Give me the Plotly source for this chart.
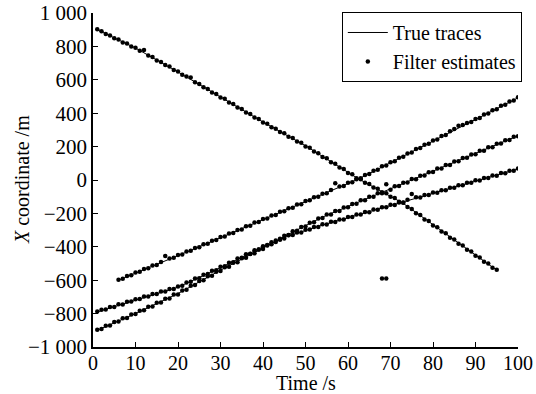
import plotly.graph_objects as go

# ---- true trace vertices ----
a_t = [1, 10, 20, 30, 40, 50, 62.4, 73, 85, 95]
a_y = [900, 790, 647, 497, 347, 205, 8, -140, -360, -540]
b_t = [6, 25, 62.4, 100]
b_y = [-600, -400, 5, 492]
c_t = [1, 10, 20, 30, 40, 46, 54, 100]
c_y = [-790, -718, -642, -525, -400, -335, -270, 66]
d_t = [1, 10, 20, 30, 40, 46, 54, 100]
d_y = [-900, -800, -680, -540, -408, -325, -222, 265]

# ---- filter estimates (one per second) ----
a_est_start = 1
a_est = [902, 891, 874, 866, 849, 842, 824, 817, 800, 792,
         774, 778, 745, 736, 716, 707, 688, 679, 658, 650,
         630, 620, 614, 585, 575, 555, 545, 524, 515, 494,
         486, 464, 455, 434, 425, 404, 395, 374, 366, 344,
         337, 316, 307, 287, 280, 259, 251, 230, 223, 201,
         193, 170, 160, 138, 130, 106, 98, 75, 66, 42,
         34, 10, 4, -17, -24, -45, -52, -74, -80, -101,
         -108, -130, -136, -162, -173, -199, -209, -236, -246, -272,
         -283, -309, -319, -346, -356, -382, -392, -418, -428, -454,
         -464, -490, -500, -526, -538]
b_est_start = 6
b_est = [-598, -591, -575, -571, -554, -550, -533, -529, -512, -509,
         -491, -455, -470, -466, -449, -446, -428, -424, -407, -403,
         -385, -381, -364, -360, -342, -339, -320, -318, -299, -296,
         -277, -274, -255, -252, -234, -231, -212, -209, -190, -187,
         -169, -166, -147, -145, -125, -122, -104, -101, -82, -79,
         -60, -20, -39, -36, -17, -14, 5, 10, 30, 36,
         56, 62, 82, 87, 107, 113, 133, 139, 159, 165,
         185, 191, 211, 217, 237, 243, 263, 270, 292, 306,
         325, 330, 341, 347, 366, 372, 392, 398, 418, 424,
         444, 450, 470, 476, 495]
c_est_start = 1
c_est = [-788, -777, -776, -761, -760, -744, -745, -729, -728, -714,
         -712, -698, -697, -683, -682, -667, -668, -652, -653, -637,
         -633, -614, -610, -590, -588, -567, -563, -543, -541, -520,
         -516, -495, -492, -470, -466, -445, -442, -420, -416, -396,
         -392, -373, -371, -352, -350, -331, -330, -314, -314, -298,
         -297, -281, -281, -265, -266, -250, -251, -236, -236, -221,
         -222, -207, -207, -192, -193, -177, -178, -163, -163, -148,
         -149, -134, -134, -119, -84, -104, -105, -90, -90, -75,
         -76, -61, -61, -46, -47, -31, -32, -17, -17, -2,
         -3, 12, 12, 27, 26, 42, 41, 56, 56, 69]
d_est_start = 1
d_est = [-897, -892, -873, -871, -851, -848, -828, -826, -806, -803,
         -783, -780, -759, -757, -735, -733, -711, -709, -686, -685,
         -661, -657, -633, -629, -605, -601, -577, -573, -549, -545,
         -522, -519, -495, -492, -469, -466, -443, -439, -416, -413,
         -389, -385, -362, -358, -334, -330, -307, -304, -281, -279,
         -256, -253, -230, -227, -206, -206, -185, -185, -164, -163,
         -143, -142, -122, -121, -100, -100, -79, -79, -25, -58,
         -37, -36, -16, -15, 6, 5, 26, 27, 47, 48,
         69, 69, 90, 90, 111, 112, 132, 133, 153, 154,
         175, 175, 196, 196, 217, 218, 238, 239, 259, 262]
out_t = [68, 69]
out_y = [-590, -590]

x_ticks = [0, 10, 20, 30, 40, 50, 60, 70, 80, 90, 100]
y_ticks = [-1000, -800, -600, -400, -200, 0, 200, 400, 600, 800, 1000]
y_ticktext = ["\u22121 000", "\u2212800", "\u2212600", "\u2212400", "\u2212200",
              "0", "200", "400", "600", "800", "1 000"]
x_title = "Time /s"
y_title = "<i>X</i> coordinate /m"

# assemble line trace (gaps between targets)
lx, ly = [], []
for tt, yy in [(a_t, a_y), (b_t, b_y), (c_t, c_y), (d_t, d_y)]:
    lx += list(tt) + [None]
    ly += list(yy) + [None]

ex, ey = [], []
for start, arr in [(a_est_start, a_est), (b_est_start, b_est),
                   (c_est_start, c_est), (d_est_start, d_est)]:
    ex += list(range(start, start + len(arr)))
    ey += arr
ex += out_t
ey += out_y

fig = go.Figure()
fig.add_trace(go.Scatter(x=lx, y=ly, mode="lines", name="True traces",
                         line=dict(color="black", width=1)))
fig.add_trace(go.Scatter(x=ex, y=ey, mode="markers", name="Filter estimates",
                         marker=dict(color="black", size=4.5)))

font_fam = "Liberation Serif"
fig.update_layout(
    width=536, height=394,
    margin=dict(l=93, r=18, t=13, b=47),
    paper_bgcolor="white", plot_bgcolor="white",
    font=dict(family=font_fam, size=20, color="black"),
    showlegend=True,
    legend=dict(x=1.009, y=1.003, xanchor="right", yanchor="top",
                bordercolor="black", borderwidth=1, bgcolor="white",
                font=dict(family=font_fam, size=20, color="black"),
                tracegroupgap=0, itemwidth=40),
    xaxis=dict(range=[0, 100], tickvals=x_ticks, showgrid=False, zeroline=False,
               showline=True, linecolor="black", linewidth=1.5, automargin=False,
               ticks="inside", ticklen=5, tickcolor="black", tickwidth=1.2,
               ticklabelstandoff=-3,
               tickfont=dict(family=font_fam, size=20)),
    yaxis=dict(range=[-1000, 1000], tickvals=y_ticks, ticktext=y_ticktext,
               showgrid=False, zeroline=False, automargin=False,
               showline=True, linecolor="black", linewidth=1.5,
               ticks="inside", ticklen=5, tickcolor="black", tickwidth=1.2,
               tickfont=dict(family=font_fam, size=21)),
    annotations=[
        dict(text=x_title, xref="paper", yref="paper", x=0.5, y=0,
             xanchor="center", yanchor="top", yshift=-23, showarrow=False,
             font=dict(family=font_fam, size=20, color="black")),
        dict(text=y_title, xref="paper", yref="paper", x=0, y=0.5,
             xanchor="center", yanchor="middle", xshift=-71, textangle=-90,
             showarrow=False,
             font=dict(family=font_fam, size=20, color="black")),
    ],
)

fig.write_html("out.html")
